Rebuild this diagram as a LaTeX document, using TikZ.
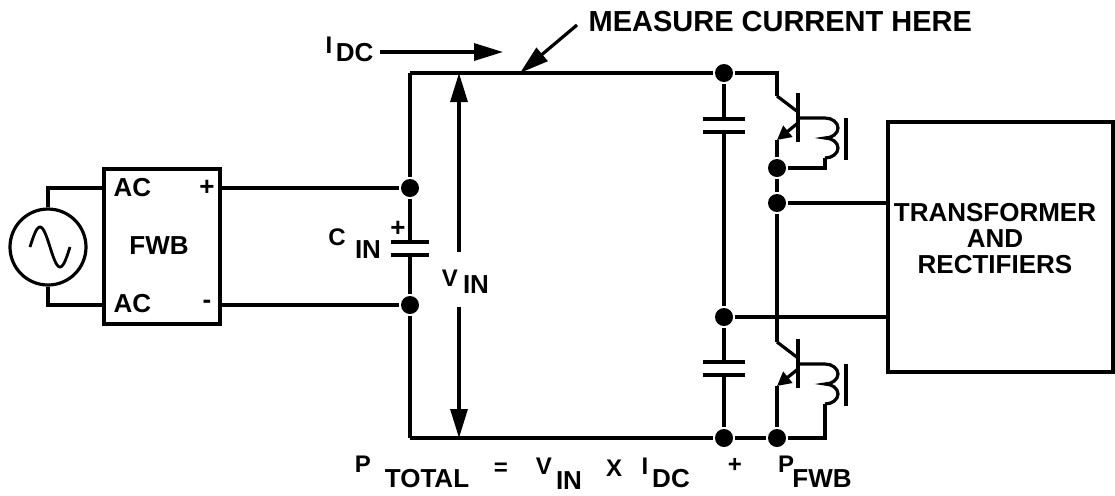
\documentclass[tikz,border=0pt]{standalone}
\usepackage{fontspec}
\setmainfont{Liberation Sans}
\usetikzlibrary{arrows.meta}

\begin{document}
\begin{tikzpicture}[x=0.5pt, y=-0.5pt, line width=1.6pt,
        txt/.style={font=\fontsize{13}{13}\selectfont\bfseries, inner sep=0pt},
        txtsm/.style={font=\fontsize{12}{12}\selectfont\bfseries, inner sep=0pt},
        dot/.style={circle, fill, inner sep=0pt, minimum size=9pt},
        block/.style={draw, rectangle, inner sep=0pt},
        tri/.style={-{Triangle[length=14.5pt, width=8.5pt]}},
        emit/.style={-{Triangle[length=7pt, width=7pt]}}]
        \useasboundingbox (0,0) rectangle (1115,495);

        % source and bridge
        \node[draw, circle, minimum size=38pt, inner sep=0pt] (src) at (48,247) {};
        \draw[line width=1.4pt] plot[domain=0:360, samples=40, smooth] ({30+\x/9}, {247-20*sin(\x)});
        \node[block, minimum width=58pt, minimum height=77.5pt] (fwb) at (162,246.5) {};
        \node[txt] (fwbl) at (159,246) {FWB};
        \node[txt, anchor=west] (ac1) at (112,188) {AC};
        \node[txt, anchor=west] (ac2) at (112,304) {AC};
        \node[txt] (pl) at (207,188) {+};
        \node[txt] (mi) at (207,304) {-};
        \coordinate (s1) at (48,188);
        \coordinate (s2) at (48,305);
        \draw (src.north) -- (s1) -- (fwb.west |- s1);
        \draw (src.south) -- (s2) -- (fwb.west |- s2);

        % input capacitor
        \node[dot] (dp) at (410,188) {};
        \node[dot] (dm) at (410,305) {};
        \coordinate (tl) at (410,73);
        \coordinate (bl) at (410,438);
        \coordinate (ca) at (410,242);
        \coordinate (cb) at (410,255);
        \draw (fwb.east |- dp) -- (dp);
        \draw (fwb.east |- dm) -- (dm);
        \draw (tl) -- (dp) -- (ca);
        \draw (cb) -- (dm) -- (bl);
        \foreach \p in {ca,cb} {\draw ([xshift=-9.5pt]\p) -- ([xshift=9.5pt]\p);}
        \node[txt] (cplus) at (398,229) {+};
        \node[txtsm] (cc) at (337,237) {C};
        \node[txt] (cin) at (368,250) {IN};

        % V_IN
        \coordinate (vt) at (459,73);
        \coordinate (va) at (459,252);
        \coordinate (vc) at (459,307);
        \coordinate (vb) at (459,438);
        \draw[tri] (va) -- (vt);
        \draw[tri] (vc) -- (vb);
        \node[txtsm] (vv) at (450,278) {V};
        \node[txt] (vin) at (476,285) {IN};

        % I_DC and measure point
        \node[txtsm] (ii) at (329,45) {I};
        \node[txt, anchor=east] (idc) at (375,53) {DC};
        \coordinate (ia) at (503,52);
        \draw[tri] ([xshift=2.5pt]idc.east |- ia) -- (ia);
        \node[anchor=west, inner sep=0pt, font=\fontsize{14.5}{14.5}\selectfont\bfseries] (meas) at (587,22) {MEASURE CURRENT HERE};
        \coordinate (mp) at (520,73);
        \draw[tri] ([xshift=-5pt, yshift=-1.5pt]meas.west) -- (mp);

        % half bridge capacitors
        \node[dot] (dt) at (724,73) {};
        \node[dot] (dmid) at (724,317) {};
        \node[dot] (dcb) at (724,438) {};
        \coordinate (u1) at (724,119);
        \coordinate (u2) at (724,132);
        \coordinate (w1) at (724,362);
        \coordinate (w2) at (724,375);
        \draw (dt) -- (u1);
        \draw (u2) -- (dmid) -- (w1);
        \draw (w2) -- (dcb);
        \foreach \p in {u1,u2,w1,w2} {\draw ([xshift=-10.5pt]\p) -- ([xshift=10.5pt]\p);}

        % switches with gate windings
        \foreach \yb/\n in {118/1,364/2} {
            \coordinate (c\n) at (777,\yb-22);
            \coordinate (e\n) at (777,\yb+22);
            \coordinate (b\n) at (798,\yb);
            \coordinate (k\n) at (825,\yb);
            \draw (798,\yb-25) -- (798,\yb+24);
            \draw (c\n) -- (798,\yb-6);
            \draw[emit] (798,\yb+5) -- (e\n);
            \draw (b\n) -- (k\n) arc[start angle=90, end angle=-90, x radius=6.5pt, y radius=5pt]
                arc[start angle=90, end angle=-90, x radius=6.5pt, y radius=5pt] coordinate (m\n);
            \draw (846,\yb) -- (846,\yb+42);
        }
        \coordinate (tr) at (777,73);
        \node[dot] (de1) at (777,168) {};
        \node[dot] (dx1) at (777,203) {};
        \node[dot] (db2) at (777,438) {};
        \draw (tl) -- (dt) -- (tr) -- (c1);
        \draw (e1) -- (de1) -- (dx1) -- (c2);
        \draw (e2) -- (db2);
        \draw (m1) -- (m1 |- de1) -- (de1);
        \draw (bl) -- (dcb) -- (db2) -- (m2 |- db2) -- (m2);

        % transformer
        \node[block, minimum width=112.5pt, minimum height=125pt] (xfm) at (1000.5,247) {};
        \node[txt, align=center] (xfml) at (995,239) {TRANSFORMER\\AND\\RECTIFIERS};
        \draw (dx1) -- (dx1 -| xfm.west);
        \draw (dmid) -- (dmid -| xfm.west);

        % power formula
        \node[txtsm] (fp) at (363,464) {P};
        \node[txt] (fptot) at (427,479) {TOTAL};
        \node[txtsm] (feq) at (501,469) {=};
        \node[txtsm] (fv) at (544,466) {V};
        \node[txt] (fvin) at (569,481) {IN};
        \node[txtsm] (fx) at (614,468) {X};
        \node[txtsm] (fi) at (645,466) {I};
        \node[txt] (fidc) at (671,479) {DC};
        \node[txtsm] (fplus) at (735,465) {+};
        \node[txtsm] (fp2) at (786,464) {P};
        \node[txt] (fpfwb) at (822,479) {FWB};
\end{tikzpicture}
\end{document}
